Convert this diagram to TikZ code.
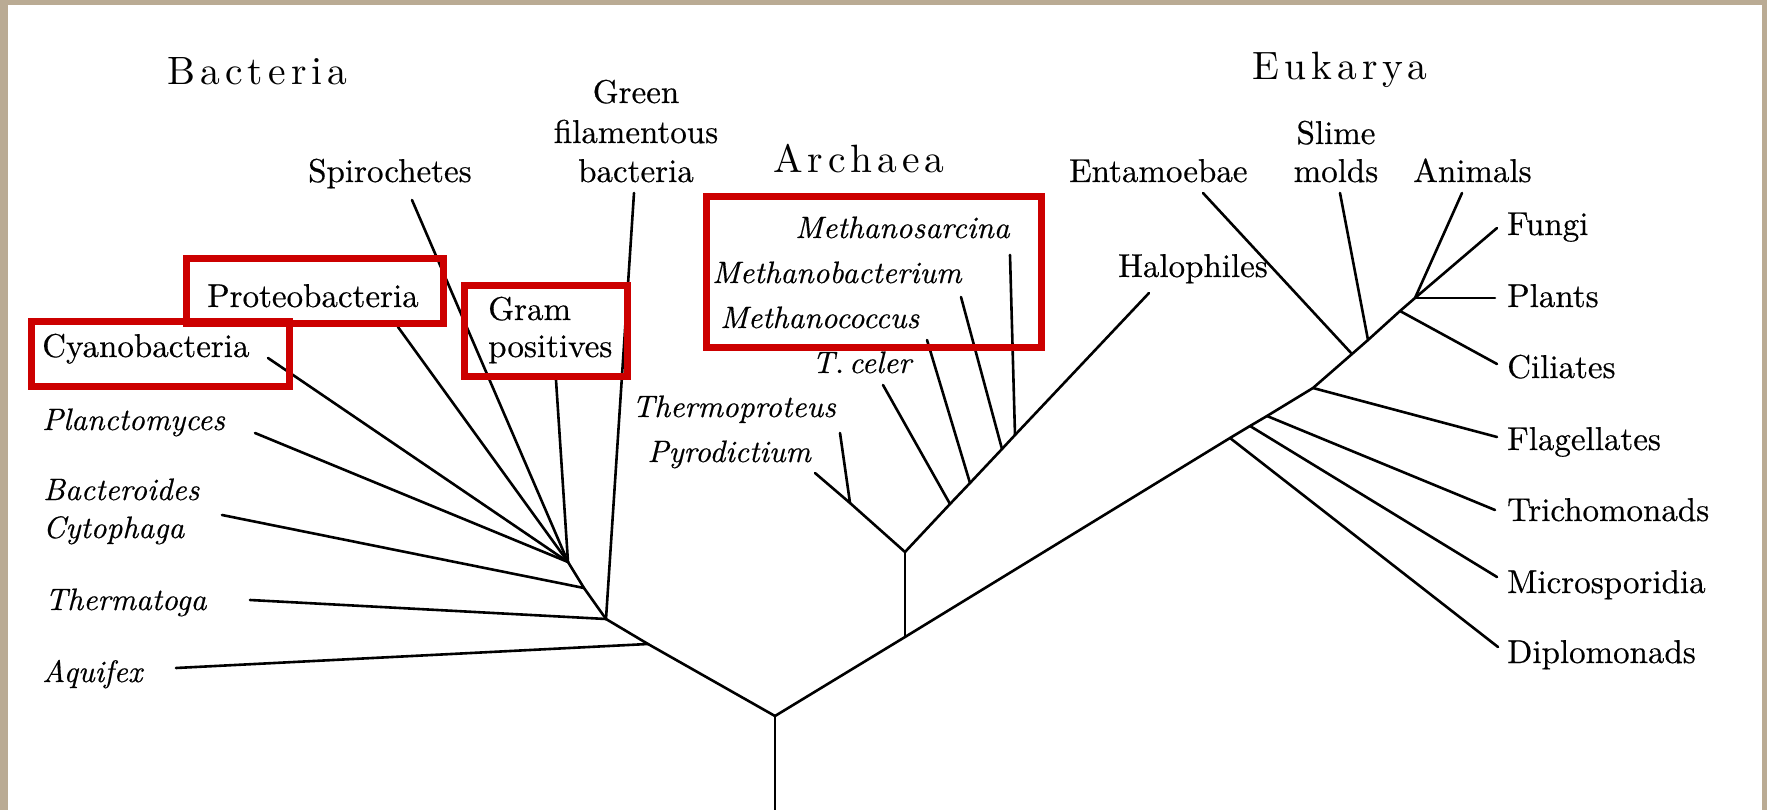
\documentclass[tikz,border=0pt]{standalone}
\usepackage{fontspec}
\setmainfont{lmroman10-regular.otf}[ItalicFont=lmroman10-italic.otf, FakeBold=0.45]
\newfontfamily\ttlfont{lmroman10-regular.otf}[LetterSpace=13]
\definecolor{hlred}{RGB}{204,0,0}
\definecolor{frametan}{RGB}{186,171,148}
\tikzset{
  lab/.style={font=\fontsize{33}{38}\selectfont, inner sep=0pt, anchor=base west},
  itl/.style={font=\fontsize{31}{36}\selectfont\itshape, inner sep=0pt, anchor=base west},
  ttl/.style={font=\fontsize{39.5}{44}\selectfont\ttlfont, inner sep=0pt, anchor=base west},
  br/.style={line width=2.6pt, black, line cap=round, line join=round},
  hl/.style={draw=hlred, line width=7pt},
}
\begin{document}
\begin{tikzpicture}[x=1pt,y=-1pt]
\useasboundingbox (0,0) rectangle (1767,810);
\fill[frametan] (0,0) rectangle (1767,810);
\fill[white] (8,5) rectangle (1762,810);

% ---------- junctions ----------
\coordinate (root) at (775,716);
\coordinate (rootbot) at (775,812);
% bacteria trunk
\coordinate (jA) at (648,644);
\coordinate (jT) at (606,619);
\coordinate (jB) at (584,588);
\coordinate (jF) at (568,562);
% right trunk
\coordinate (jS) at (905,637);
\coordinate (jD) at (1230,438);
\coordinate (jMi) at (1250,426);
\coordinate (jTr) at (1267,416);
\coordinate (jFl) at (1313,388);
\coordinate (jEn) at (1352,354);
\coordinate (jSl) at (1368,340);
\coordinate (jCi) at (1400,311);
\coordinate (jCr) at (1415,298);
% archaea
\coordinate (jAp) at (905,552);
\coordinate (jTh) at (850,503);
\coordinate (jTc) at (950,504);
\coordinate (jMc) at (970,483);
\coordinate (jMb) at (1002,449);
\coordinate (jMs) at (1015,435);
\coordinate (eHa) at (1149,293);

% ---------- leaf ends ----------
\coordinate (eAqu) at (176,668);
\coordinate (eThe) at (250,600);
\coordinate (eBac) at (222,515);
\coordinate (ePla) at (255,433);
\coordinate (eCya) at (268,358);
\coordinate (ePro) at (398,327);
\coordinate (eSpi) at (412,200);
\coordinate (eGra) at (556,380);
\coordinate (eGre) at (634,193);
\coordinate (eTpr) at (840,433);
\coordinate (ePyr) at (815,473);
\coordinate (eTce) at (883,385);
\coordinate (eMco) at (927,340);
\coordinate (eMba) at (961,297);
\coordinate (eMsa) at (1010,255);
\coordinate (eEnt) at (1203,193);
\coordinate (eSli) at (1340,193);
\coordinate (eAni) at (1462,193);
\coordinate (eFun) at (1497,228);
\coordinate (ePlt) at (1495,298);
\coordinate (eCil) at (1497,364);
\coordinate (eFla) at (1497,437);
\coordinate (eTri) at (1495,510);
\coordinate (eMic) at (1497,577);
\coordinate (eDip) at (1498,647);

% ---------- branches ----------
\draw[br] (rootbot) -- (root);
\draw[br] (root) -- (jA) -- (jT) -- (jB) -- (jF);
\draw[br] (eAqu) -- (jA);
\draw[br] (eThe) -- (jT);
\draw[br] (eGre) -- (jT);
\draw[br] (eBac) -- (jB);
\draw[br] (ePla) -- (jF);
\draw[br] (eCya) -- (jF);
\draw[br] (ePro) -- (jF);
\draw[br] (eSpi) -- (jF);
\draw[br] (eGra) -- (jF);

\draw[br] (root) -- (jS) -- (jD) -- (jMi) -- (jTr) -- (jFl) -- (jEn) -- (jSl) -- (jCi) -- (jCr);
\draw[br] (jS) -- (jAp);
\draw[br] (jAp) -- (jTh);
\draw[br] (jAp) -- (jTc) -- (jMc) -- (jMb) -- (jMs) -- (eHa);
\draw[br] (eTpr) -- (jTh);
\draw[br] (ePyr) -- (jTh);
\draw[br] (eTce) -- (jTc);
\draw[br] (eMco) -- (jMc);
\draw[br] (eMba) -- (jMb);
\draw[br] (eMsa) -- (jMs);

\draw[br] (eDip) -- (jD);
\draw[br] (eMic) -- (jMi);
\draw[br] (eTri) -- (jTr);
\draw[br] (eFla) -- (jFl);
\draw[br] (eEnt) -- (jEn);
\draw[br] (eSli) -- (jSl);
\draw[br] (eCil) -- (jCi);
\draw[br] (eAni) -- (jCr);
\draw[br] (eFun) -- (jCr);
\draw[br] (ePlt) -- (jCr);

% ---------- highlight boxes ----------
\draw[hl] (31.5,321.5) rectangle (289.5,386.5);
\draw[hl] (186.5,258.5) rectangle (443.5,323.5);
\draw[hl] (464.5,285.5) rectangle (627.5,376);
\draw[hl] (706.5,196.5) rectangle (1041.5,347.5);

% ---------- titles ----------
\node[ttl] (tBac) at (167,85) {Bacteria};
\node[ttl] (tArc) at (773,173) {Archaea};
\node[ttl] (tEuk) at (1252,80) {Eukarya};

% ---------- bacteria labels ----------
\node[lab, anchor=base] (lGre1) at (636,103) {Green};
\node[lab, anchor=base] (lGre2) at (636,143) {filamentous};
\node[lab, anchor=base] (lGre3) at (636,182) {bacteria};
\node[lab] (lSpi) at (308,182) {Spirochetes};
\node[lab] (lPro) at (207,307) {Proteobacteria};
\node[lab] (lGra1) at (488,320) {Gram};
\node[lab] (lGra2) at (488,357) {positives};
\node[lab] (lCya) at (42,357) {Cyanobacteria};
\node[itl] (lPla) at (42,430) {Planctomyces};
\node[itl] (lBac) at (43,500) {Bacteroides};
\node[itl] (lCyt) at (43,538) {Cytophaga};
\node[itl] (lThe) at (45,610) {Thermatoga};
\node[itl] (lAqu) at (42,682) {Aquifex};

% ---------- archaea labels ----------
\node[itl] (lMsa) at (795,238) {Methanosarcina};
\node[itl] (lMba) at (712,283) {Methanobacterium};
\node[itl] (lMco) at (720,328) {Methanococcus};
\node[itl] (lTce) at (812,373) {T.\,celer};
\node[itl, anchor=base east] (lTpr) at (836,417) {Thermoproteus};
\node[itl, anchor=base east] (lPyr) at (811,462) {Pyrodictium};
\node[lab, anchor=base east] (lHal) at (1268,277) {Halophiles};

% ---------- eukarya labels ----------
\node[lab] (lEnt) at (1069,182) {Entamoebae};
\node[lab, anchor=base] (lSli1) at (1336,144) {Slime};
\node[lab, anchor=base] (lSli2) at (1336,182) {molds};
\node[lab] (lAni) at (1413,182) {Animals};
\node[lab] (lFun) at (1507,235) {Fungi};
\node[lab] (lPlt) at (1507,307) {Plants};
\node[lab] (lCil) at (1507,378) {Ciliates};
\node[lab] (lFla) at (1507,450) {Flagellates};
\node[lab] (lTri) at (1507,521) {Trichomonads};
\node[lab] (lMic) at (1507,593) {Microsporidia};
\node[lab] (lDip) at (1507,663) {Diplomonads};
\end{tikzpicture}
\end{document}
